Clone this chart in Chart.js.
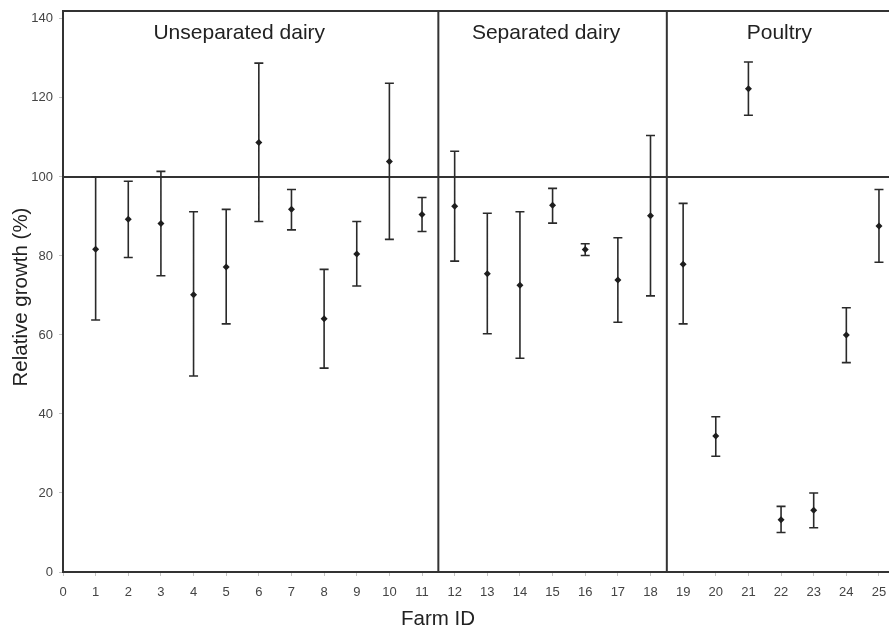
<!DOCTYPE html>
<html>
<head>
<meta charset="utf-8">
<script src="https://cdn.jsdelivr.net/npm/chart.js@4/dist/chart.umd.min.js"></script>
<style>
  html, body { margin: 0; padding: 0; background: #fff; }
  canvas { display: block; }
</style>
</head>
<body>
<canvas id="chart" width="889" height="630"></canvas>
<script>
// values
const farmIds = [1, 2, 3, 4, 5, 6, 7, 8, 9, 10, 11, 12, 13, 14, 15, 16, 17, 18, 19, 20, 21, 22, 23, 24, 25]
const means = [81.7, 89.3, 88.2, 70.2, 77.2, 108.7, 91.8, 64.1, 80.5, 103.9, 90.5, 92.6, 75.5, 72.6, 92.8, 81.6, 73.9, 90.2, 77.9, 34.4, 122.3, 13.2, 15.6, 60.0, 87.6]
const upper = [100.0, 98.9, 101.4, 91.2, 91.8, 128.8, 96.8, 76.6, 88.7, 123.7, 94.8, 106.5, 90.8, 91.2, 97.1, 83.1, 84.6, 110.5, 93.3, 39.3, 129.1, 16.6, 20.0, 66.9, 96.8]
const lower = [63.8, 79.6, 75.0, 49.6, 62.8, 88.7, 86.6, 51.6, 72.4, 84.2, 86.2, 78.7, 60.3, 54.1, 88.3, 80.1, 63.2, 69.9, 62.8, 29.3, 115.6, 10.0, 11.2, 53.0, 78.4]
const groups = ['Unseparated dairy', 'Separated dairy', 'Poultry']
const groupBreaks = [11.5, 18.5]
const referenceValue = 100
const xTicks = [0, 1, 2, 3, 4, 5, 6, 7, 8, 9, 10, 11, 12, 13, 14, 15, 16, 17, 18, 19, 20, 21, 22, 23, 24, 25]
const yTicks = [0, 20, 40, 60, 80, 100, 120, 140]

const FONT = '"Liberation Sans", Arial, sans-serif'
const groupLabelX = [5.4, 14.8, 21.95]

const decorations = {
  id: 'decorations',
  beforeDatasetsDraw(chart) {
    const { ctx, chartArea: a, scales: { x, y } } = chart
    ctx.save()

    // frame (right side runs off the picture)
    ctx.strokeStyle = '#333'
    ctx.lineWidth = 2
    ctx.beginPath()
    ctx.moveTo(chart.width, a.top)
    ctx.lineTo(a.left, a.top)
    ctx.lineTo(a.left, a.bottom)
    ctx.lineTo(chart.width, a.bottom)
    const yRef = y.getPixelForValue(referenceValue)
    ctx.moveTo(a.left, yRef)
    ctx.lineTo(chart.width, yRef)
    groupBreaks.forEach(b => {
      const px = x.getPixelForValue(b)
      ctx.moveTo(px, a.top)
      ctx.lineTo(px, a.bottom)
    })
    ctx.stroke()

    // error bars
    ctx.strokeStyle = '#2a2a2a'
    ctx.lineWidth = 1.6
    ctx.beginPath()
    farmIds.forEach((id, i) => {
      const px = x.getPixelForValue(id)
      const top = y.getPixelForValue(upper[i])
      const bot = y.getPixelForValue(lower[i])
      ctx.moveTo(px, top)
      ctx.lineTo(px, bot)
      ctx.moveTo(px - 4.5, top)
      ctx.lineTo(px + 4.5, top)
      ctx.moveTo(px - 4.5, bot)
      ctx.lineTo(px + 4.5, bot)
    })
    ctx.stroke()

    // panel names
    ctx.fillStyle = '#222'
    ctx.font = '21px ' + FONT
    ctx.textAlign = 'center'
    ctx.textBaseline = 'middle'
    groups.forEach((g, i) => {
      ctx.fillText(g, x.getPixelForValue(groupLabelX[i]), 33)
    })
    ctx.restore()
  },
  afterDraw(chart) {
    const { ctx } = chart
    ctx.save()
    ctx.fillStyle = '#222'
    ctx.font = '20.5px ' + FONT
    ctx.textAlign = 'center'
    ctx.textBaseline = 'middle'
    ctx.fillText('Farm ID', 438, 619)
    ctx.translate(21, 297)
    ctx.rotate(-Math.PI / 2)
    ctx.fillText('Relative growth (%)', 0, 0)
    ctx.restore()
  }
}

new Chart(document.getElementById('chart'), {
  type: 'scatter',
  data: {
    datasets: [{
      label: 'Relative growth',
      data: farmIds.map((id, i) => ({ x: id, y: means[i] })),
      pointStyle: 'rectRot',
      pointRadius: 3.5,
      pointHoverRadius: 3.5,
      backgroundColor: '#1e1e1e',
      borderColor: '#1e1e1e',
      borderWidth: 0
    }]
  },
  options: {
    responsive: false,
    animation: false,
    events: [],
    layout: { padding: { top: 11, right: 0, left: 0, bottom: 0 } },
    plugins: {
      legend: { display: false },
      tooltip: { enabled: false }
    },
    scales: {
      x: {
        type: 'linear',
        min: 0,
        max: 25.2,
        afterFit: s => { s.height = 58; s.paddingLeft = 0; s.paddingRight = 0 },
        afterBuildTicks: s => { s.ticks = xTicks.map(v => ({ value: v })) },
        grid: { drawOnChartArea: false, drawTicks: true, tickLength: 4, color: '#c4c4c4' },
        border: { display: false },
        ticks: {
          autoSkip: false,
          maxRotation: 0,
          padding: 9,
          color: '#444',
          font: { family: FONT, size: 13 }
        }
      },
      y: {
        min: 0,
        max: 142,
        afterFit: s => { s.width = 63; s.paddingTop = 0; s.paddingBottom = 0 },
        afterBuildTicks: s => { s.ticks = yTicks.map(v => ({ value: v })) },
        grid: { drawOnChartArea: false, drawTicks: true, tickLength: 4, color: '#c4c4c4' },
        border: { display: false },
        ticks: {
          padding: 6,
          color: '#444',
          font: { family: FONT, size: 13 }
        }
      }
    }
  },
  plugins: [decorations]
})
</script>
</body>
</html>
